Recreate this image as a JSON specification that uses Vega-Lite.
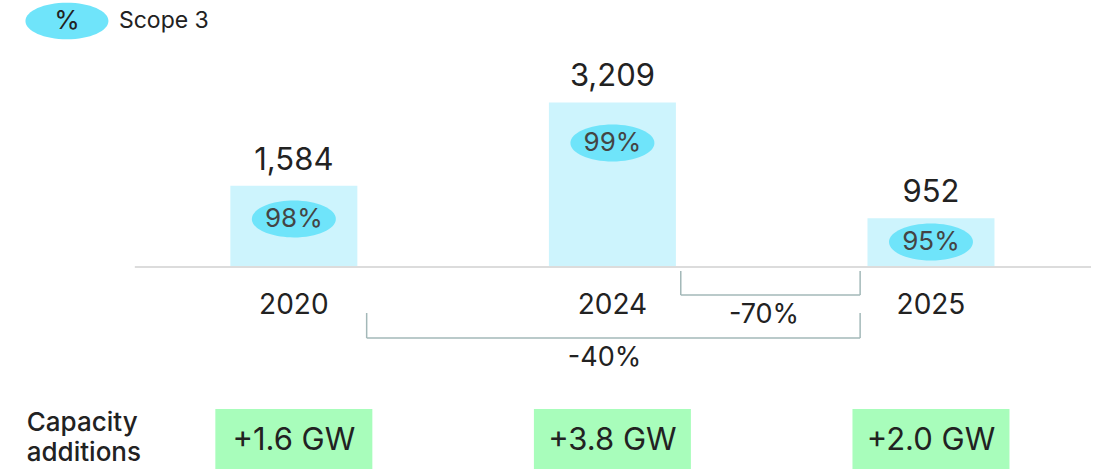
{
  "$schema": "https://vega.github.io/schema/vega-lite/v6.json",
  "width": 1096,
  "height": 469,
  "autosize": {"type": "none"},
  "padding": 0,
  "background": "white",
  "config": {"view": {"stroke": null}, "text": {"font": "Inter"}},
  "datasets": {
    "main": [
      {"year": "2020", "slot": 1, "value": 1584, "label": "1,584", "pct": "98%", "pct_y": 936, "cap": "+1.6 GW"},
      {"year": "2024", "slot": 2, "value": 3209, "label": "3,209", "pct": "99%", "pct_y": 2417, "cap": "+3.8 GW"},
      {"year": "2025", "slot": 3, "value": 952, "label": "952", "pct": "95%", "pct_y": 487, "cap": "+2.0 GW"}
    ],
    "brackets": [
      {"label": "-70%", "from": 2.2146, "to": 2.7776, "top": -78, "bottom": -546, "lx": 2.4759, "ly": -1086},
      {"label": "-40%", "from": 1.2286, "to": 2.7776, "top": -897, "bottom": -1384, "lx": 1.9751, "ly": -1930}
    ],
    "axisline": [{"a": 0.5008, "b": 3.50233, "v": 0}],
    "legend": [{"sym": "%", "name": "Scope 3", "lx": 0.2877, "ly": 4795, "tx": 0.451}],
    "side": [{"t": "Capacity\nadditions", "sx": 0.1617, "sy": -3197}]
  },
  "layer": [
    {
      "data": {"name": "main"},
      "mark": {"type": "bar", "width": 127, "color": "#cdf4fd"},
      "encoding": {
        "x": {"field": "slot", "type": "quantitative", "scale": {"domain": [0.09331, 3.50233], "nice": false, "zero": false}, "axis": null},
        "y": {"field": "value", "type": "quantitative", "scale": {"domain": [-3938, 5205], "nice": false, "zero": false}, "axis": null},
        "y2": {"datum": 0}
      }
    },
    {
      "data": {"name": "axisline"},
      "mark": {"type": "rule", "color": "#dcdcdc", "strokeWidth": 2},
      "encoding": {"x": {"field": "a", "type": "quantitative"}, "x2": {"field": "b"}, "y": {"field": "v", "type": "quantitative"}}
    },
    {
      "data": {"name": "main"},
      "mark": {"type": "point", "shape": "M-1,0A1,0.44,0,1,0,1,0A1,0.44,0,1,0,-1,0Z", "size": 7056, "filled": true, "opacity": 1, "color": "#6fe4fa", "strokeWidth": 0},
      "encoding": {"x": {"field": "slot", "type": "quantitative"}, "y": {"field": "pct_y", "type": "quantitative"}}
    },
    {
      "data": {"name": "main"},
      "mark": {"type": "text", "fontSize": 26, "color": "#444444", "baseline": "middle", "align": "center"},
      "encoding": {"x": {"field": "slot", "type": "quantitative"}, "y": {"field": "pct_y", "type": "quantitative"}, "text": {"field": "pct"}}
    },
    {
      "data": {"name": "main"},
      "mark": {"type": "text", "fontSize": 31, "color": "#222222", "baseline": "alphabetic", "align": "center", "dy": -16},
      "encoding": {"x": {"field": "slot", "type": "quantitative"}, "y": {"field": "value", "type": "quantitative"}, "text": {"field": "label"}}
    },
    {
      "data": {"name": "main"},
      "mark": {"type": "text", "fontSize": 28, "color": "#222222", "baseline": "alphabetic", "align": "center", "dy": 47},
      "encoding": {"x": {"field": "slot", "type": "quantitative"}, "y": {"datum": 0}, "text": {"field": "year"}}
    },
    {
      "data": {"name": "main"},
      "mark": {"type": "bar", "width": 157, "color": "#a8fdbb"},
      "encoding": {"x": {"field": "slot", "type": "quantitative"}, "y": {"datum": -2768}, "y2": {"datum": -3938}}
    },
    {
      "data": {"name": "main"},
      "mark": {"type": "text", "fontSize": 31, "color": "#222222", "baseline": "middle", "align": "center"},
      "encoding": {"x": {"field": "slot", "type": "quantitative"}, "y": {"datum": -3392}, "text": {"field": "cap"}}
    },
    {
      "data": {"name": "brackets"},
      "mark": {"type": "rule", "color": "#a3b8b8", "strokeWidth": 1.5},
      "encoding": {"x": {"field": "from", "type": "quantitative"}, "y": {"field": "top", "type": "quantitative"}, "y2": {"field": "bottom"}}
    },
    {
      "data": {"name": "brackets"},
      "mark": {"type": "rule", "color": "#a3b8b8", "strokeWidth": 1.5},
      "encoding": {"x": {"field": "to", "type": "quantitative"}, "y": {"field": "top", "type": "quantitative"}, "y2": {"field": "bottom"}}
    },
    {
      "data": {"name": "brackets"},
      "mark": {"type": "rule", "color": "#a3b8b8", "strokeWidth": 1.5},
      "encoding": {"x": {"field": "from", "type": "quantitative"}, "x2": {"field": "to"}, "y": {"field": "bottom", "type": "quantitative"}}
    },
    {
      "data": {"name": "brackets"},
      "mark": {"type": "text", "fontSize": 27, "color": "#222222", "baseline": "alphabetic", "align": "center"},
      "encoding": {"x": {"field": "lx", "type": "quantitative"}, "y": {"field": "ly", "type": "quantitative"}, "text": {"field": "label"}}
    },
    {
      "data": {"name": "legend"},
      "mark": {"type": "point", "shape": "M-1,0A1,0.44,0,1,0,1,0A1,0.44,0,1,0,-1,0Z", "size": 6889, "filled": true, "opacity": 1, "color": "#6fe4fa", "strokeWidth": 0},
      "encoding": {"x": {"field": "lx", "type": "quantitative"}, "y": {"field": "ly", "type": "quantitative"}}
    },
    {
      "data": {"name": "legend"},
      "mark": {"type": "text", "fontSize": 26, "color": "#222222", "baseline": "middle", "align": "center"},
      "encoding": {"x": {"field": "lx", "type": "quantitative"}, "y": {"field": "ly", "type": "quantitative"}, "text": {"field": "sym"}}
    },
    {
      "data": {"name": "legend"},
      "mark": {"type": "text", "fontSize": 23, "color": "#222222", "baseline": "middle", "align": "left"},
      "encoding": {"x": {"field": "tx", "type": "quantitative"}, "y": {"field": "ly", "type": "quantitative"}, "text": {"field": "name"}}
    },
    {
      "data": {"name": "side"},
      "mark": {"type": "text", "fontSize": 26, "fontWeight": 500, "color": "#222222", "baseline": "alphabetic", "align": "left", "lineBreak": "\n", "lineHeight": 30},
      "encoding": {"x": {"field": "sx", "type": "quantitative"}, "y": {"field": "sy", "type": "quantitative"}, "text": {"field": "t"}}
    }
  ]
}
